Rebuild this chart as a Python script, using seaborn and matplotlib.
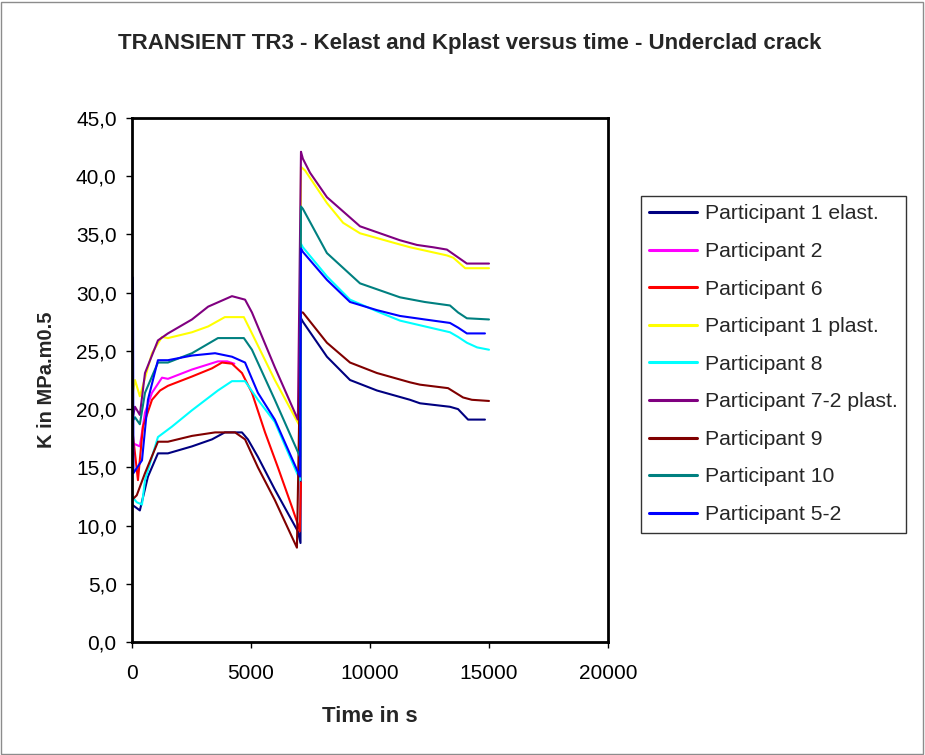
import numpy as np
import pandas as pd
import matplotlib
matplotlib.use("Agg")
import matplotlib.pyplot as plt
import matplotlib.patches as mpatches
from matplotlib.lines import Line2D
import seaborn as sns

# ---------------- data ----------------
names = ["Participant 1 elast.", "Participant 2", "Participant 6", "Participant 1 plast.",
         "Participant 8", "Participant 7-2 plast.", "Participant 9", "Participant 10",
         "Participant 5-2"]
colors = ["#000080", "#FF00FF", "#FF0000", "#FFFF00", "#00FFFF", "#800080",
          "#800000", "#008080", "#0000FF"]

t_p1e = [0, 330, 670, 1090, 1510, 2520, 3360, 3900, 4620, 4870, 5290, 6000, 6970, 7080,
         7100, 7180, 8190, 9160, 10290, 11680, 12100, 13360, 13700, 14120, 14830]
k_p1e = [11.8, 11.3, 14.2, 16.2, 16.2, 16.8, 17.4, 18.0, 18.0, 17.4, 15.9, 13.1, 9.5, 8.5,
         27.8, 27.5, 24.5, 22.5, 21.6, 20.8, 20.5, 20.2, 20.0, 19.1, 19.1]

t_p2 = [0, 330, 546, 840, 1260, 1510, 2520, 3610, 4000, 4300]
k_p2 = [17.1, 16.8, 19.7, 21.4, 22.7, 22.6, 23.4, 24.1, 24.1, 23.9]

t_p6 = [0, 250, 460, 840, 1180, 1510, 2520, 3360, 3780, 4200, 4620, 5040, 5590, 6130,
        6720, 6970, 7050, 7100]
k_p6 = [18.5, 13.9, 18.5, 20.8, 21.6, 22.0, 22.8, 23.5, 24.0, 23.9, 23.1, 21.4, 18.0, 15.0,
        11.6, 10.1, 9.5, 13.7]

t_p1p = [0, 126, 330, 840, 1260, 1510, 2520, 3200, 3900, 4700, 5040, 6000, 7060,
         7100, 7270, 8190, 8870, 9580, 10970, 11680, 13230, 13500, 14000, 15000]
k_p1p = [21.0, 22.5, 21.1, 24.8, 26.2, 26.1, 26.6, 27.1, 27.9, 27.9, 26.5, 22.5, 18.5,
         40.8, 40.5, 37.7, 36.0, 35.1, 34.3, 33.9, 33.2, 33.0, 32.1, 32.1]

t_p8 = [0, 200, 420, 546, 1090, 1680, 2520, 3610, 4200, 4750, 5290, 6000, 7060,
        7100, 7180, 8190, 9160, 10290, 11260, 12100, 13360, 13700, 14070, 14500, 15000]
k_p8 = [12.5, 12.0, 11.8, 13.9, 17.6, 18.5, 19.9, 21.6, 22.4, 22.4, 20.8, 18.9, 13.9,
        34.2, 33.9, 31.4, 29.4, 28.4, 27.6, 27.2, 26.6, 26.2, 25.7, 25.3, 25.1]

t_p72 = [0, 126, 330, 546, 1090, 1510, 2520, 3200, 4200, 4750, 5040, 6000, 6970,
         7100, 7180, 7480, 8190, 9580, 10420, 11260, 11970, 12650, 13230, 13650, 14070, 15000]
k_p72 = [19.0, 20.2, 19.5, 23.1, 25.9, 26.5, 27.7, 28.8, 29.7, 29.4, 28.3, 23.6, 19.1,
         42.1, 41.5, 40.3, 38.2, 35.7, 35.1, 34.5, 34.1, 33.9, 33.7, 33.1, 32.5, 32.5]

t_p9 = [0, 200, 546, 1090, 1510, 2520, 3490, 4330, 4750, 5290, 6000, 6930,
        7100, 7180, 8190, 9160, 10290, 11680, 12100, 13280, 13910, 14280, 15000]
k_p9 = [12.2, 12.6, 14.5, 17.2, 17.2, 17.7, 18.0, 18.0, 17.4, 15.0, 12.2, 8.1,
        28.3, 28.3, 25.7, 24.0, 23.1, 22.3, 22.1, 21.8, 21.0, 20.8, 20.7]

t_p10 = [0, 126, 330, 546, 1090, 1510, 2520, 3610, 4700, 5040, 6000, 7060,
         7100, 7180, 8190, 9580, 11260, 12300, 13360, 13700, 14070, 15000]
k_p10 = [18.9, 19.3, 18.7, 21.4, 24.0, 24.0, 24.8, 26.1, 26.1, 25.1, 20.8, 15.9,
         37.4, 37.2, 33.4, 30.8, 29.6, 29.2, 28.9, 28.3, 27.8, 27.7]

t_p52 = [40, 60, 420, 670, 1090, 1510, 2520, 3490, 4200, 4750, 5290, 6000, 7060,
         7100, 7180, 8190, 9160, 10290, 11260, 12300, 13360, 13700, 14070, 14830]
k_p52 = [31.3, 14.5, 15.6, 20.8, 24.2, 24.2, 24.6, 24.8, 24.5, 24.0, 21.4, 19.1, 14.2,
         33.8, 33.5, 31.1, 29.2, 28.5, 28.0, 27.7, 27.4, 27.0, 26.5, 26.5]

y_ticks = [0, 5, 10, 15, 20, 25, 30, 35, 40, 45]
x_ticks = [0, 5000, 10000, 15000, 20000]

series_t = [t_p1e, t_p2, t_p6, t_p1p, t_p8, t_p72, t_p9, t_p10, t_p52]
series_k = [k_p1e, k_p2, k_p6, k_p1p, k_p8, k_p72, k_p9, k_p10, k_p52]

frames = []
for n, tt, kk in zip(names, series_t, series_k):
    frames.append(pd.DataFrame({"t": tt, "K": kk, "series": n}))
df = pd.concat(frames, ignore_index=True)

# ---------------- figure ----------------
sns.set_style("white")
plt.rcParams["font.family"] = ["Liberation Sans", "DejaVu Sans"]

fig = plt.figure(figsize=(9.25, 7.55), dpi=100)
ax = fig.add_axes([132 / 925, 1 - 642 / 755, (608 - 132) / 925, (642 - 118) / 755])

palette = dict(zip(names, colors))
sns.lineplot(data=df, x="t", y="K", hue="series", hue_order=names, palette=palette,
             sort=False, estimator=None, linewidth=1.5, legend=False, ax=ax)

ax.set_xlim(0, 20000)
ax.set_ylim(0, 45)
ax.set_xticks(x_ticks)
ax.set_xticklabels([str(v) for v in x_ticks])
ax.set_yticks(y_ticks)
ax.set_yticklabels([f"{v:.1f}".replace(".", ",") for v in y_ticks])
ax.tick_params(axis="both", which="major", direction="out", length=4, width=1,
               labelsize=15, color="black", labelcolor="black", left=True, bottom=True)
ax.tick_params(axis="y", pad=7)
ax.tick_params(axis="x", pad=11.5)
for sp in ax.spines.values():
    sp.set_visible(True)
    sp.set_color("black")
    sp.set_linewidth(2)

ax.set_xlabel("Time in s", fontsize=16, fontweight="bold")
ax.set_ylabel("K in MPa.m0.5", fontsize=14.5, fontweight="bold")
ax.xaxis.label.set_va("center")
ax.yaxis.label.set_va("center")
ax.xaxis.set_label_coords(0.5, (642 - 716) / 524)
ax.yaxis.set_label_coords((46 - 132) / 476, 0.5)

fig.text(470 / 925, 1 - 43 / 755, "TRANSIENT TR3 - Kelast and Kplast versus time - Underclad crack",
         ha="center", va="center", fontsize=16, fontweight="bold")

handles = [Line2D([0], [0], color=c, lw=2.2) for c in colors]
leg = fig.legend(handles, names, loc="upper left",
                 bbox_to_anchor=(641 / 925, 1 - 196 / 755),
                 frameon=True, fancybox=False, shadow=False, fontsize=15.2,
                 handlelength=2.25, handletextpad=0.38, labelspacing=0.88,
                 borderpad=0.4, borderaxespad=0.0)
leg.get_frame().set_edgecolor("black")
leg.get_frame().set_linewidth(1.0)

fig.add_artist(mpatches.Rectangle((0.001, 0.001), 0.997, 0.997, transform=fig.transFigure,
                                  fill=False, edgecolor="#8c8c8c", linewidth=1))

fig.savefig("out.png", dpi=100)
